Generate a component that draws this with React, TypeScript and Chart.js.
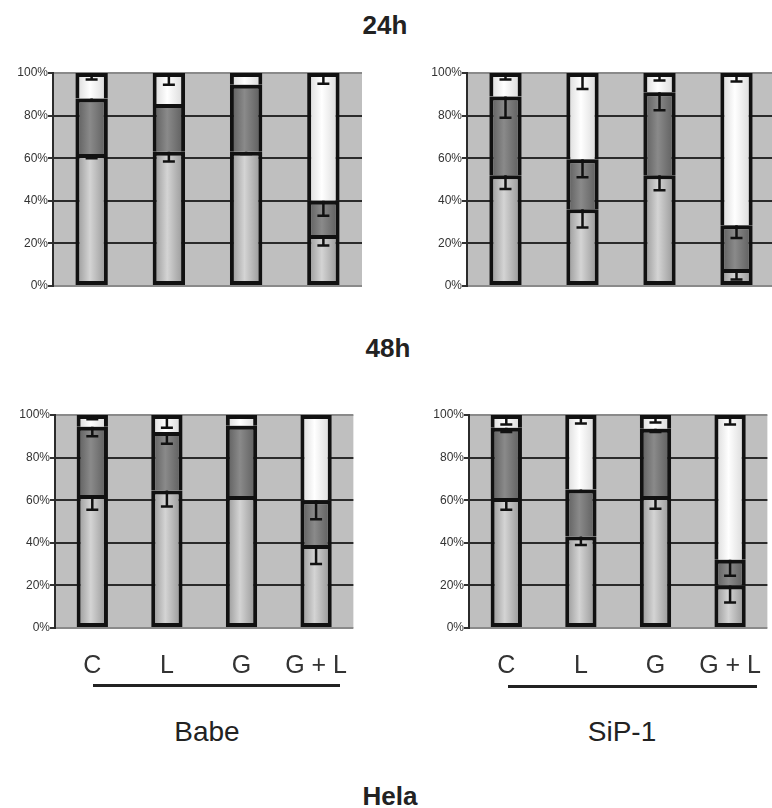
import React, { useEffect, useRef } from "react";
import { Chart, registerables } from "chart.js";
Chart.register(...registerables);

// ---- data ----
const categories = ["C", "L", "G", "G + L"];
const yTicks = [0, 20, 40, 60, 80, 100];

// 24h Babe
const babe24Low = [62, 63, 63, 24];
const babe24Mid = [26, 22.5, 31.5, 16];
const babe24Top = [12, 14.5, 5.5, 60];
const babe24ErrLow = [2, 4.5, 1, 5];
const babe24ErrMid = [1, 1, 0, 7];
const babe24ErrTop = [3, 5.5, 1, 5];

// 24h SiP-1
const sip24Low = [52, 36, 52, 8];
const sip24Mid = [37, 23.5, 39, 20.5];
const sip24Top = [11, 40.5, 9, 71.5];
const sip24ErrLow = [6.5, 8.5, 7, 5];
const sip24ErrMid = [10, 8.5, 8.5, 6];
const sip24ErrTop = [3, 7.5, 3.5, 4];

// 48h Babe
const babe48Low = [62.5, 64.5, 62, 39];
const babe48Mid = [32, 27.5, 33, 21];
const babe48Top = [5.5, 8, 5, 40];
const babe48ErrLow = [7, 7.5, 1, 9];
const babe48ErrMid = [4.5, 5.5, 0, 9];
const babe48ErrTop = [2, 6, 1, 1];

// 48h SiP-1
const sip48Low = [61, 43, 62, 20];
const sip48Mid = [33, 22, 31.5, 12];
const sip48Top = [6, 35, 6.5, 68];
const sip48ErrLow = [5.5, 4, 6, 8];
const sip48ErrMid = [2, 1, 1.5, 7.5];
const sip48ErrTop = [4.5, 4, 3.5, 4.5];

const BAR_PCT = 0.42;
const FONT = "'Liberation Sans', Arial, sans-serif";

const gradFill = (edge: string, center: string) => (c: any) => {
  const chart = c.chart;
  const xs = chart.scales && chart.scales.x;
  if (!chart.chartArea || !xs || c.dataIndex === undefined) return center;
  const cx = xs.getPixelForValue(c.dataIndex);
  const hw = ((xs.width / categories.length) * BAR_PCT) / 2;
  const g = chart.ctx.createLinearGradient(cx - hw, 0, cx + hw, 0);
  g.addColorStop(0, edge);
  g.addColorStop(0.45, center);
  g.addColorStop(1, edge);
  return g;
};

type PanelProps = {
  low: number[]; mid: number[]; top: number[];
  errLow: number[]; errMid: number[]; errTop: number[];
  showX: boolean; left: number; topPx: number; width: number; height: number;
};

function Panel(p: PanelProps) {
  const ref = useRef<HTMLCanvasElement>(null);
  useEffect(() => {
    if (!ref.current) return;
    const segs = [p.low, p.mid, p.top];
    const errs = [p.errLow, p.errMid, p.errTop];
    const bgPlugin = {
      id: "plotBg",
      beforeDraw(chart: any) {
        const { ctx, chartArea: a } = chart;
        ctx.save();
        ctx.fillStyle = "#bfbfbf";
        ctx.fillRect(a.left, a.top, a.right - a.left, a.bottom - a.top);
        ctx.restore();
      },
    };
    const errPlugin = {
      id: "errBars",
      afterDatasetsDraw(chart: any) {
        const ctx = chart.ctx;
        const ys = chart.scales.y;
        ctx.save();
        ctx.strokeStyle = "#111";
        ctx.lineWidth = 2.5;
        for (let j = 0; j < categories.length; j++) {
          let cum = 0;
          for (let i = 0; i < segs.length; i++) {
            cum += segs[i][j];
            const e = errs[i][j];
            if (!e) continue;
            const el = chart.getDatasetMeta(i).data[j];
            const x = el.x;
            const y1 = ys.getPixelForValue(cum);
            const y2 = ys.getPixelForValue(cum - e);
            ctx.beginPath();
            ctx.moveTo(x, y1);
            ctx.lineTo(x, y2);
            ctx.moveTo(x - 6, y2);
            ctx.lineTo(x + 6, y2);
            ctx.stroke();
          }
        }
        ctx.restore();
      },
    };
    const chart = new Chart(ref.current, {
      type: "bar",
      data: {
        labels: categories,
        datasets: [
          { data: p.low, backgroundColor: gradFill("#929292", "#d4d4d4"), borderColor: "#111", borderWidth: 4, borderSkipped: false as any },
          { data: p.mid, backgroundColor: gradFill("#5a5a5a", "#8a8a8a"), borderColor: "#111", borderWidth: 4, borderSkipped: "start" as any },
          { data: p.top, backgroundColor: gradFill("#d6d6d6", "#ffffff"), borderColor: "#111", borderWidth: 4, borderSkipped: "start" as any },
        ],
      },
      options: {
        responsive: false,
        maintainAspectRatio: false,
        animation: false,
        devicePixelRatio: 1,
        datasets: { bar: { barPercentage: BAR_PCT, categoryPercentage: 1 } },
        layout: { padding: { top: 15, bottom: p.showX ? 0 : 15, left: 0, right: 8 } },
        plugins: { legend: { display: false }, tooltip: { enabled: false }, title: { display: false } },
        scales: {
          x: {
            stacked: true,
            display: p.showX,
            grid: { display: false, drawTicks: false },
            border: { display: false },
            ticks: { font: { size: 25, family: FONT }, color: "#333", padding: 23, maxRotation: 0, autoSkip: false },
            afterFit: (s: any) => { s.height = p.showX ? 62 : 0; },
          },
          y: {
            stacked: true,
            min: 0,
            max: 100,
            afterBuildTicks: (s: any) => { s.ticks = yTicks.map((v) => ({ value: v })); },
            ticks: { callback: (v: any) => v + "%", font: { size: 12, family: FONT }, color: "#333", padding: 0 },
            grid: {
              color: (c: any) => (c.tick && (c.tick.value === 0 || c.tick.value === 100) ? "#8a8a8a" : "#2b2b2b"),
              lineWidth: 2,
              tickLength: 5,
              tickColor: "#333",
            },
            border: { color: "#2b2b2b", width: 2 },
            afterFit: (s: any) => { s.width = 53; },
          },
        },
      },
      plugins: [bgPlugin, errPlugin],
    } as any);
    return () => chart.destroy();
  }, []);
  return (
    <canvas
      ref={ref}
      width={p.width}
      height={p.height}
      style={{ position: "absolute", left: p.left, top: p.topPx, width: p.width, height: p.height }}
    />
  );
}

const txt = (s: string, x: number, y: number, size: number, bold: boolean, color = "#222") => (
  <div
    style={{
      position: "absolute", left: x, top: y, transform: "translate(-50%, -50%)",
      fontSize: size, fontWeight: bold ? 700 : 400, lineHeight: 1, whiteSpace: "nowrap", color,
    }}
  >
    {s}
  </div>
);

export default function App() {
  return (
    <div
      style={{
        position: "absolute", left: 0, top: 0, width: 772, height: 808, overflow: "hidden",
        background: "#fff", fontFamily: FONT,
      }}
    >
      {txt("24h", 385, 25, 26, true)}
      {txt("48h", 388, 348, 26, true)}
      <Panel low={babe24Low} mid={babe24Mid} top={babe24Top} errLow={babe24ErrLow} errMid={babe24ErrMid} errTop={babe24ErrTop}
        showX={false} left={0} topPx={58} width={370} height={243} />
      <Panel low={sip24Low} mid={sip24Mid} top={sip24Top} errLow={sip24ErrLow} errMid={sip24ErrMid} errTop={sip24ErrTop}
        showX={false} left={414} topPx={58} width={369} height={243} />
      <Panel low={babe48Low} mid={babe48Mid} top={babe48Top} errLow={babe48ErrLow} errMid={babe48ErrMid} errTop={babe48ErrTop}
        showX={true} left={2} topPx={400} width={369} height={290} />
      <Panel low={sip48Low} mid={sip48Mid} top={sip48Top} errLow={sip48ErrLow} errMid={sip48ErrMid} errTop={sip48ErrTop}
        showX={true} left={416} topPx={400} width={369} height={290} />
      <div style={{ position: "absolute", left: 93, top: 684, width: 247, height: 3, background: "#222" }} />
      <div style={{ position: "absolute", left: 508, top: 685, width: 249, height: 3, background: "#222" }} />
      {txt("Babe", 207, 732, 28, false)}
      {txt("SiP-1", 622, 732, 28, false)}
      {txt("Hela", 390, 796, 26, true)}
    </div>
  );
}
